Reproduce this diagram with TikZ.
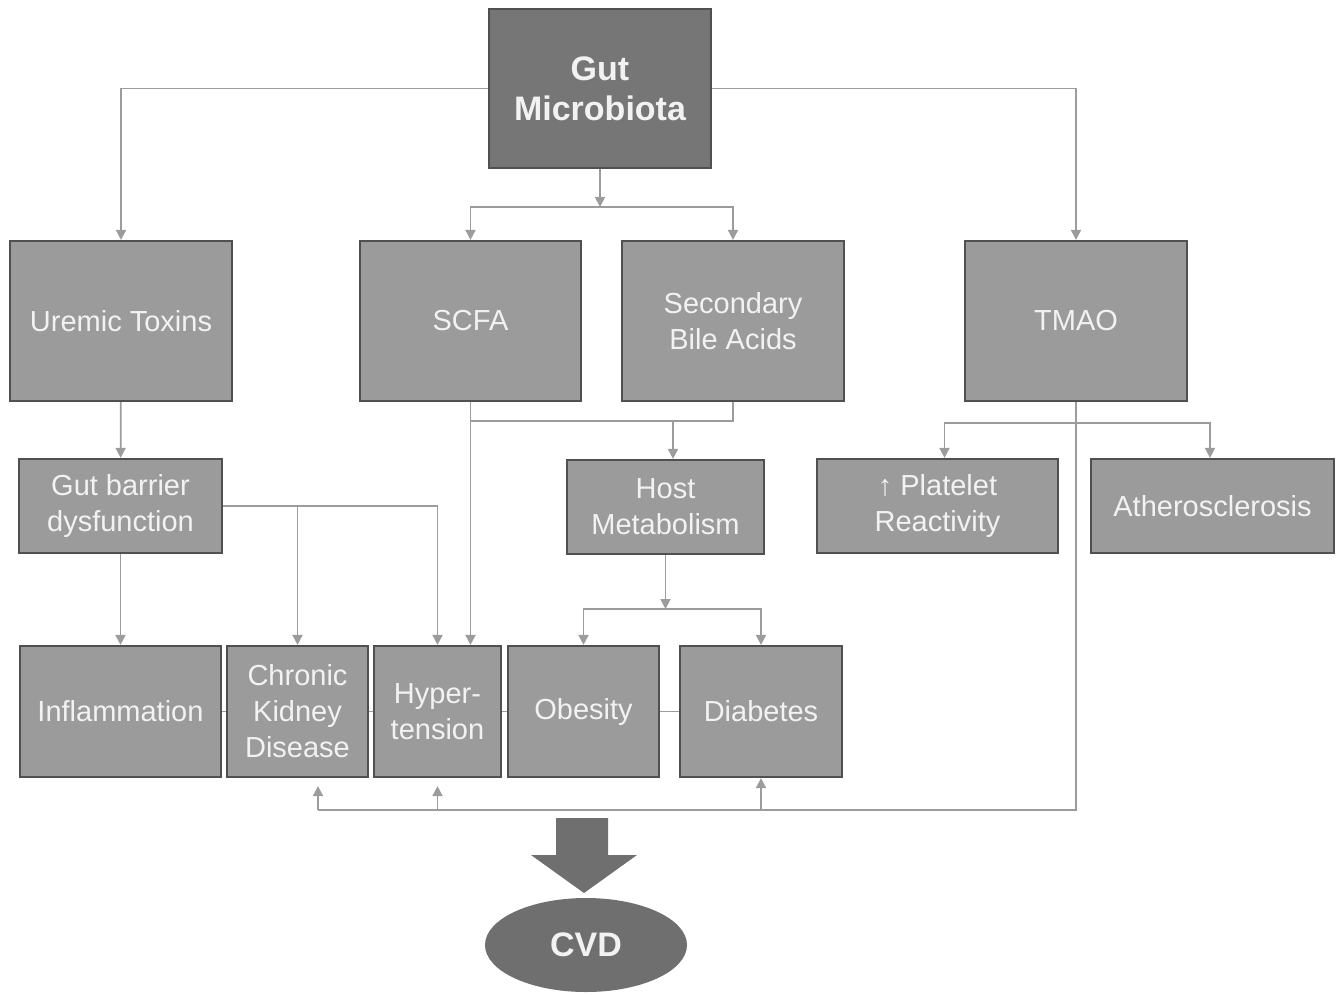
\documentclass[tikz,border=0pt]{standalone}
\usepackage{fontspec}
\setmainfont{Liberation Sans}
\usetikzlibrary{arrows.meta, positioning, calc, shapes.geometric}
\definecolor{boxgray}{HTML}{9B9B9B}
\definecolor{boxline}{HTML}{505050}
\definecolor{topgray}{HTML}{767676}
\definecolor{lnkgray}{HTML}{9C9C9C}
\definecolor{cvdgray}{HTML}{6F6F6F}
\definecolor{txtwhite}{HTML}{F2F2F2}

\begin{document}
\begin{tikzpicture}[x=1pt, y=-1pt,
    box/.style={draw=boxline, line width=2.2pt, fill=boxgray, text=txtwhite,
        align=center, inner sep=0pt, font=\fontsize{29}{36}\selectfont},
    link/.style={draw=lnkgray, line width=1.8pt, -{Triangle[length=10pt, width=10pt]}},
    plain/.style={draw=lnkgray, line width=1.8pt}]
    \useasboundingbox (0,0) rectangle (1344,994);

    \node[box, fill=topgray, minimum width=222, minimum height=159,
        font=\bfseries\fontsize{34}{40}\selectfont] (gut) at (600,88.5) {Gut\\Microbiota};

    \node[box, minimum width=222, minimum height=160] (uremic) at (121,321) {Uremic Toxins};
    \node[box, minimum width=221, minimum height=160] (scfa) at (470.5,321) {SCFA};
    \node[box, minimum width=222, minimum height=160] (sba) at (733,321) {Secondary\\Bile Acids};
    \node[box, minimum width=222, minimum height=160] (tmao) at (1076,321) {TMAO};

    \node[box, minimum width=203, minimum height=94] (barrier) at (120.5,506) {Gut barrier\\dysfunction};
    \node[box, minimum width=197, minimum height=94] (host) at (665.5,507) {Host\\Metabolism};
    \node[box, minimum width=241, minimum height=94] (platelet) at (937.5,506) {↑ Platelet\\Reactivity};
    \node[box, minimum width=243, minimum height=94] (athero) at (1212.5,506) {Atherosclerosis};

    \node[box, minimum width=201, minimum height=131] (infl) at (120.5,711.5) {Inflammation};
    \node[box, minimum width=141, minimum height=131] (ckd) at (297.5,711.5) {Chronic\\Kidney\\Disease};
    \node[box, minimum width=127, minimum height=131] (hyper) at (437.5,711.5) {Hyper-\\tension};
    \node[box, minimum width=151, minimum height=131] (obes) at (583.5,711.5) {Obesity};
    \node[box, minimum width=162, minimum height=131] (diab) at (761,711.5) {Diabetes};

    \node[ellipse, fill=cvdgray, text=txtwhite, minimum width=202, minimum height=94,
        inner sep=0pt, font=\bfseries\fontsize{34}{36}\selectfont] (cvd) at (586,945) {CVD};

    \coordinate (split) at (600,207);
    \coordinate (meta) at (673,421);
    \coordinate (obsplit) at (665.5,609);
    \coordinate (tsplit) at (1076,423);
    \coordinate (base) at (318,810);

    % from the gut microbiota
    \draw[link] (gut.west) -| (uremic.north);
    \draw[link] (gut.east) -| (tmao.north);
    \draw[link] (gut.south) -- (split);
    \draw[link] (split) -| (scfa.north);
    \draw[link] (split) -| (sba.north);

    % metabolites to effects
    \draw[link] (uremic) -- (barrier);
    \draw[link] (barrier) -- (infl);
    \draw[link] (barrier.east) -| (hyper.north);
    \draw[link] (barrier.east -| ckd.north) -- (ckd.north);
    \draw[link] (scfa.south) -- (scfa.south |- hyper.north);
    \draw[plain] (sba.south) |- (scfa.south |- meta);
    \draw[link] (meta) -- (meta |- host.north);
    \draw[link] (host.south) -- (obsplit);
    \draw[link] (obsplit) -| (obes.north);
    \draw[link] (obsplit) -| (diab.north);
    \draw[link] (tsplit) -| ([xshift=7pt]platelet.north);
    \draw[link] (tsplit) -| ([xshift=-2.5pt]athero.north);

    % TMAO back to the diseases
    \draw[plain] (tmao.south) |- (base);
    \draw[link, shorten >=8pt] (base) -- (base |- ckd.south);
    \draw[link, shorten >=8pt] (base -| hyper.south) -- (hyper.south);
    \draw[link] (base -| diab.south) -- (diab.south);

    \path[plain]
    (infl.east) edge (ckd.west)
    (ckd.east) edge (hyper.west)
    (hyper.east) edge (obes.west)
    (obes.east) edge (diab.west);

    % big arrow to CVD
    \fill[cvdgray] (556,818) -- (608,818) -- (608,855) -- (637,855) -- (584,893)
        -- (531,855) -- (556,855) -- cycle;
\end{tikzpicture}
\end{document}
